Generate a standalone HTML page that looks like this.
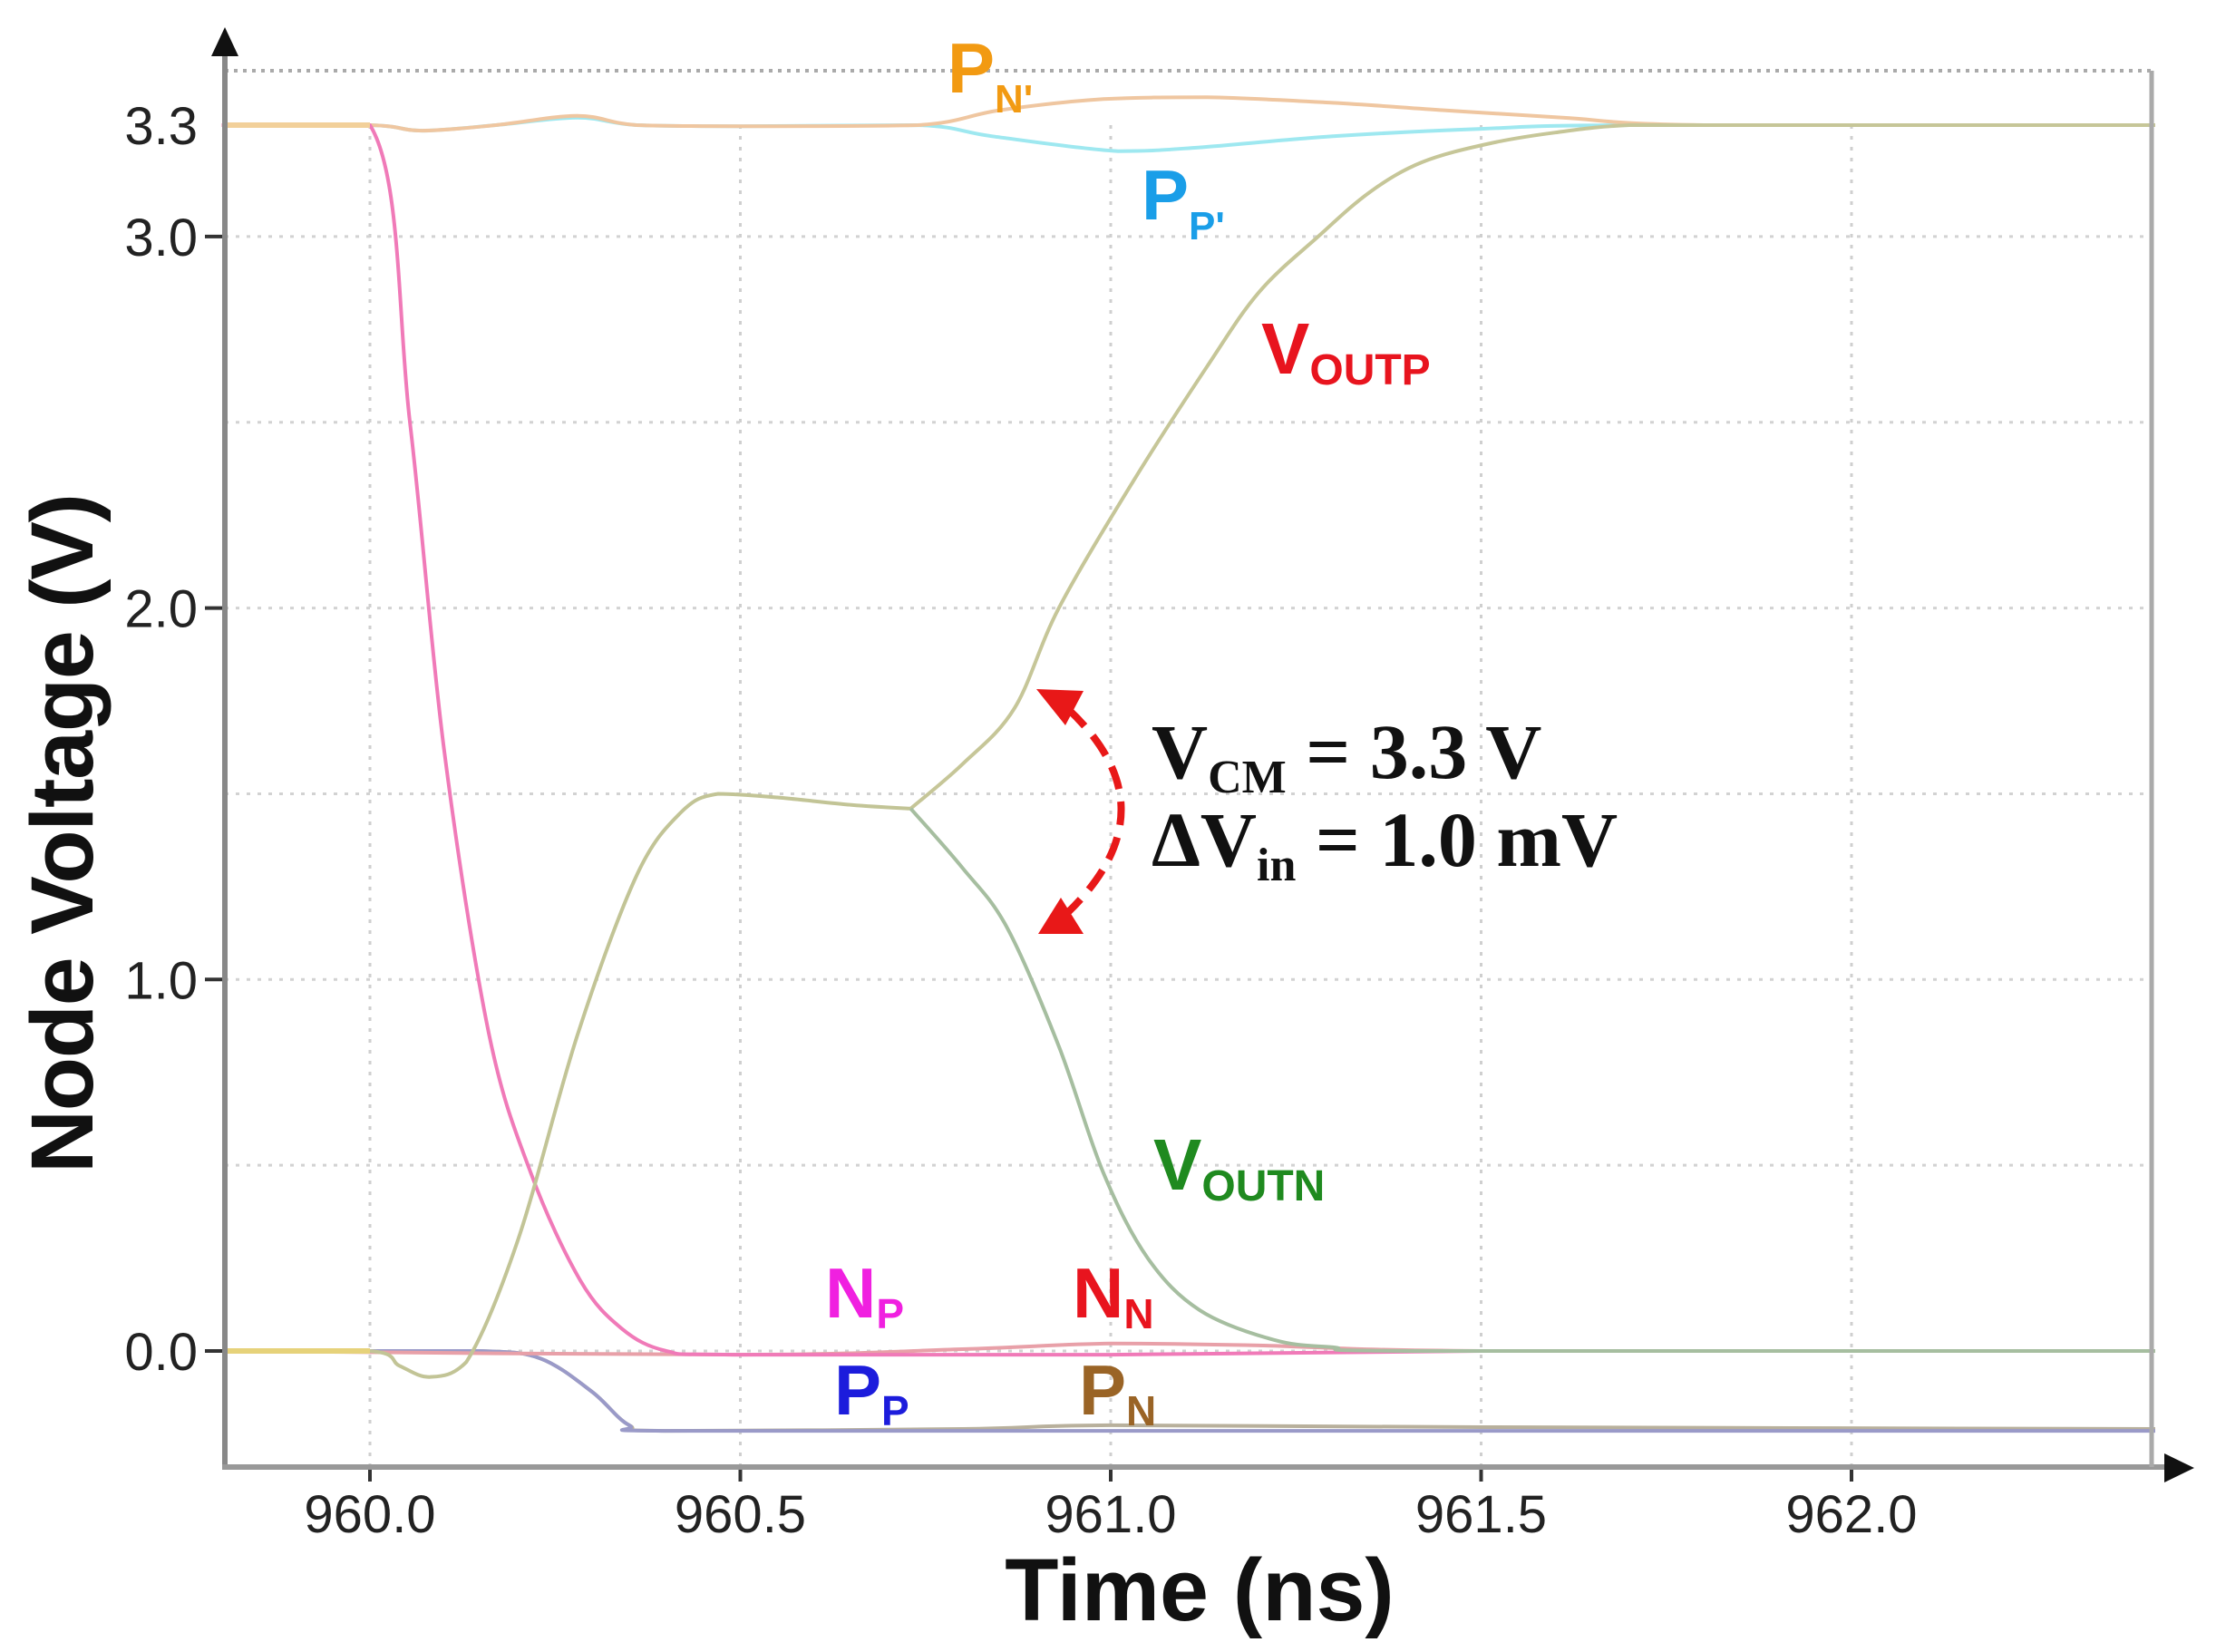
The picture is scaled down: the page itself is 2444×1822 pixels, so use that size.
<!DOCTYPE html>
<html><head><meta charset="utf-8"><style>
html,body{margin:0;padding:0;background:#fff;}
svg{display:block;}
</style></head><body>
<svg id="chart" width="2444" height="1822" viewBox="0 0 2444 1822" xmlns="http://www.w3.org/2000/svg" font-family="'Liberation Sans', sans-serif">
<g id="grid"></g>
<g id="series"></g>
<g id="axes"></g>
<g id="labels">
  <text x="1045" y="102" font-size="78" font-weight="bold" fill="#f29a12">P<tspan font-size="44" dy="22">N'</tspan></text>
  <text x="1259" y="242" font-size="78" font-weight="bold" fill="#1a9ee8">P<tspan font-size="44" dy="22">P'</tspan></text>
  <text x="1391" y="412" font-size="80" font-weight="bold" fill="#e8141e">V<tspan font-size="48" dy="12">OUTP</tspan></text>
  <text x="1272" y="1312" font-size="80" font-weight="bold" fill="#1f8a1f">V<tspan font-size="48" dy="12">OUTN</tspan></text>
  <text x="910" y="1453" font-size="78" font-weight="bold" fill="#f020e0">N<tspan font-size="46" dy="12">P</tspan></text>
  <text x="1183" y="1453" font-size="78" font-weight="bold" fill="#e8141e">N<tspan font-size="46" dy="12">N</tspan></text>
  <text x="920" y="1560" font-size="78" font-weight="bold" fill="#1c1cdc">P<tspan font-size="46" dy="12">P</tspan></text>
  <text x="1190" y="1560" font-size="78" font-weight="bold" fill="#9a6426">P<tspan font-size="46" dy="12">N</tspan></text>
</g>
<g font-family="'Liberation Serif', serif" font-weight="bold" fill="#111">
  <text x="1270" y="858" font-size="86">V<tspan font-size="52" dy="16">CM</tspan><tspan dy="-16"> = 3.3 V</tspan></text>
  <text x="1270" y="955" font-size="86">ΔV<tspan font-size="52" dy="16">in</tspan><tspan dy="-16"> = 1.0 mV</tspan></text>
  <path d="M1178,782 Q1296,893 1176,1008" fill="none" stroke="#e81818" stroke-width="8" stroke-dasharray="26,14"/>
  <polygon points="1143,760 1195,762 1175,800" fill="#e81818"/>
  <polygon points="1145,1030 1195,1030 1170,990" fill="#e81818"/>
</g>
<text x="1323" y="1787" font-size="97" font-weight="bold" text-anchor="middle" fill="#111">Time (ns)</text>
<text transform="translate(102,919) rotate(-90)" font-size="97" font-weight="bold" text-anchor="middle" fill="#111" textLength="750">Node Voltage (V)</text>
</svg>
<script>
const xTicks=[960.0,960.5,961.0,961.5,962.0];
const xTickLabels=["960.0","960.5","961.0","961.5","962.0"];
const yTicks=[0.0,1.0,2.0,3.0,3.3];
const yTickLabels=["0.0","1.0","2.0","3.0","3.3"];
const yGrid=[0,0.5,1.0,1.5,2.0,2.5,3.0];
const commonT=[959.8,960.0,960.04,960.08,960.13,960.2,960.28,960.36,960.42,960.47,960.55,960.65,960.73];
const commonV=[0,0,-0.04,-0.07,-0.03,0.3,0.85,1.28,1.45,1.5,1.49,1.47,1.46];
const voutpT=[960.73,960.80,960.87,960.93,961.03,961.13,961.20,961.28,961.35,961.42,961.51,961.60,961.70,961.85,962.41];
const voutpV=[1.46,1.58,1.73,2.0,2.34,2.65,2.85,3.0,3.12,3.2,3.25,3.28,3.3,3.3,3.3];
const voutnT=[960.73,960.80,960.86,960.93,960.99,961.05,961.12,961.22,961.30,961.42,962.41];
const voutnV=[1.46,1.3,1.14,0.82,0.48,0.25,0.11,0.03,0.01,0,0];
const npT=[959.8,960.0,960.054,960.10,960.16,960.217,960.284,960.34,960.40,960.49,961.0,961.5,962.41];
const npV=[3.3,3.3,2.5,1.62,0.86,0.48,0.19,0.06,0.0,-0.01,-0.01,0,0];
const nnT=[959.8,960.5,960.8,961.0,961.2,961.5,962.41];
const nnV=[0,-0.01,0.005,0.02,0.015,0,0];
const ppT=[959.8,960.0,960.15,960.23,960.30,960.35,960.40,961.0,962.41];
const ppV=[0,0,0,-0.02,-0.11,-0.2,-0.215,-0.215,-0.215];
const pnT=[959.8,960.0,960.15,960.23,960.30,960.35,960.40,960.8,961.0,961.5,962.41];
const pnV=[0,0,0,-0.02,-0.11,-0.2,-0.215,-0.21,-0.2,-0.205,-0.21];
const pnpT=[959.8,960.0,960.07,960.17,960.28,960.36,960.5,960.74,960.85,960.99,961.13,961.3,961.45,961.61,961.8,962.41];
const pnpV=[3.3,3.3,3.285,3.3,3.325,3.3,3.297,3.3,3.34,3.37,3.375,3.36,3.34,3.32,3.3,3.3];
const pppT=[959.8,960.0,960.07,960.17,960.28,960.36,960.5,960.74,960.84,961.01,961.12,961.3,961.5,961.7,962.41];
const pppV=[3.3,3.3,3.285,3.3,3.32,3.3,3.297,3.3,3.27,3.23,3.24,3.27,3.29,3.3,3.3];

const X0=248,X1=2373,Y0=1618,YTOP=78;
function xs(t){return 408+(t-960)*817;}
function ys(v){return 1490-v*409.7;}
const NS="http://www.w3.org/2000/svg";
function mk(tag,attrs,parent){const e=document.createElementNS(NS,tag);for(const k in attrs)e.setAttribute(k,attrs[k]);parent.appendChild(e);return e;}
const gridG=document.getElementById('grid'),axesG=document.getElementById('axes'),seriesG=document.getElementById('series');
xTicks.forEach((t,i)=>{
  const g=mk('line',{x1:xs(t),x2:xs(t),y1:YTOP+60,y2:Y0,stroke:'#cfcfcf','stroke-width':3,'stroke-dasharray':'4,8'},gridG);
  
  
  const tk=mk('line',{x1:xs(t),x2:xs(t),y1:Y0,y2:Y0+16,stroke:'#333','stroke-width':4},axesG);
  
  
  const lb=mk('text',{x:xs(t),y:1690,'font-size':58,'text-anchor':'middle',fill:'#222'},axesG);
  lb.textContent=xTickLabels[i];
  
  
});
yGrid.forEach(v=>{
  const g=mk('line',{x1:X0,x2:X1,y1:ys(v),y2:ys(v),stroke:'#d2d2d2','stroke-width':3,'stroke-dasharray':'4,8'},gridG);
  
  
});
const topBorder=mk('line',{x1:X0,x2:X1,y1:YTOP,y2:YTOP,stroke:'#aaa','stroke-width':4,'stroke-dasharray':'4,6'},gridG);


yTicks.forEach((v,i)=>{
  if(i<4){const tk=mk('line',{x1:X0-22,x2:X0,y1:ys(v),y2:ys(v),stroke:'#333','stroke-width':4},axesG);
  
  }
  const lb=mk('text',{x:218,y:ys(v)+21,'font-size':58,'text-anchor':'end',fill:'#222'},axesG);
  lb.textContent=yTickLabels[i];
  
  
});
const ya=mk('line',{x1:X0,x2:X0,y1:55,y2:Y0+3,stroke:'#888','stroke-width':6},axesG);


const xa=mk('line',{x1:X0-3,x2:2400,y1:Y0,y2:Y0,stroke:'#999','stroke-width':6},axesG);


const ra=mk('line',{x1:X1,x2:X1,y1:YTOP,y2:Y0,stroke:'#aaa','stroke-width':5},axesG);


const ay=mk('polygon',{points:'233,62 248,30 263,62',fill:'#111'},axesG);


const ax=mk('polygon',{points:'2387,1603 2420,1619 2387,1635',fill:'#111'},axesG);



function clampY(y,a,b){const lo=Math.min(a,b),hi=Math.max(a,b);return Math.max(lo,Math.min(hi,y));}
function draw(T,V,color,name,w){
  const pts=T.map((t,i)=>[xs(t),ys(V[i])]);
  const n=pts.length;
  let d='M'+pts[0][0].toFixed(1)+','+pts[0][1].toFixed(1);
  for(let i=0;i+1!==n;i++){
    const p0=pts[Math.max(i-1,0)],p1=pts[i],p2=pts[i+1],p3=pts[Math.min(i+2,n-1)];
    const c1=[p1[0]+(p2[0]-p0[0])/6,clampY(p1[1]+(p2[1]-p0[1])/6,p1[1],p2[1])];
    const c2=[p2[0]-(p3[0]-p1[0])/6,clampY(p2[1]-(p3[1]-p1[1])/6,p1[1],p2[1])];
    d+=' C'+c1[0].toFixed(1)+','+c1[1].toFixed(1)+' '+c2[0].toFixed(1)+','+c2[1].toFixed(1)+' '+p2[0].toFixed(1)+','+p2[1].toFixed(1);
  }
  const p=mk('path',{d:d,fill:'none',stroke:color,'stroke-width':w||4,'stroke-linejoin':'round'},seriesG);
  
  
}
draw(pppT,pppV,'#9ee8f0','series-pp-prime');
draw(pnpT,pnpV,'#efc6a0','series-pn-prime');
draw(pnT,pnV,'#b8b09c','series-pn');
draw(ppT,ppV,'#9a9ac8','series-pp');
draw(nnT,nnV,'#e8a0a8','series-nn');
draw(npT,npV,'#f07ab8','series-np');
draw(commonT,commonV,'#c2c496','series-vout-common');
draw(voutpT,voutpV,'#c6c698','series-voutp');
draw(voutnT,voutnV,'#a6bea0','series-voutn');
const y0=mk('line',{x1:X0+3,x2:xs(960),y1:ys(0),y2:ys(0),stroke:'#e6d27a','stroke-width':6},seriesG);


const y33=mk('line',{x1:X0+3,x2:xs(960),y1:ys(3.3),y2:ys(3.3),stroke:'#f2d09a','stroke-width':6},seriesG);


</script>
</body></html>
